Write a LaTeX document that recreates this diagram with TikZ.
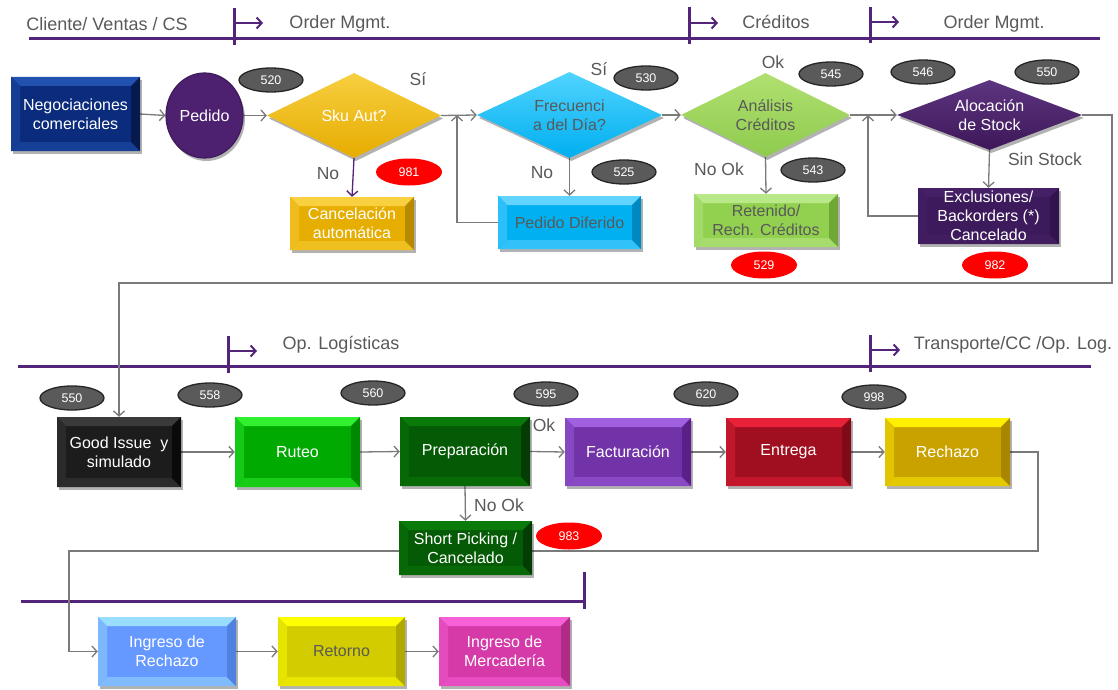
\documentclass[tikz,border=0pt]{standalone}
\usepackage{fontspec}
\setmainfont{Liberation Sans}
\usetikzlibrary{shapes.geometric,arrows.meta,calc,backgrounds,shadows}

\definecolor{lpurple}{HTML}{52247A}
\definecolor{hgray}{HTML}{595959}
\definecolor{cgray}{HTML}{7A7A7A}
\definecolor{numgray}{HTML}{5A5A5A}
\definecolor{negB}{HTML}{0B2C7C}\definecolor{negL}{HTML}{2252B0}\definecolor{negD}{HTML}{061A50}
\definecolor{cancB}{HTML}{E6AE00}\definecolor{cancL}{HTML}{F8D040}\definecolor{cancD}{HTML}{B88A00}
\definecolor{difB}{HTML}{00B0F0}\definecolor{difL}{HTML}{60D4FF}\definecolor{difD}{HTML}{0088C0}
\definecolor{retB}{HTML}{92D050}\definecolor{retL}{HTML}{B8E888}\definecolor{retD}{HTML}{70A838}
\definecolor{exB}{HTML}{3C1A5B}\definecolor{exL}{HTML}{452066}\definecolor{exD}{HTML}{32134D}
\definecolor{giB}{HTML}{1C1C1C}\definecolor{giL}{HTML}{3A3A3A}\definecolor{giD}{HTML}{0A0A0A}
\definecolor{rutB}{HTML}{00AA00}\definecolor{rutL}{HTML}{30F030}\definecolor{rutD}{HTML}{008800}
\definecolor{prB}{HTML}{055A05}\definecolor{prL}{HTML}{0A7A0A}\definecolor{prD}{HTML}{033D03}
\definecolor{faB}{HTML}{7232A8}\definecolor{faL}{HTML}{A060E0}\definecolor{faD}{HTML}{5A2088}
\definecolor{enB}{HTML}{A00F1F}\definecolor{enL}{HTML}{E82038}\definecolor{enD}{HTML}{800A18}
\definecolor{reB}{HTML}{C9A200}\definecolor{reL}{HTML}{FFF000}\definecolor{reD}{HTML}{A88600}
\definecolor{irB}{HTML}{6699FF}\definecolor{irL}{HTML}{99DDFF}\definecolor{irD}{HTML}{5080E0}
\definecolor{rtB}{HTML}{D2CC00}\definecolor{rtL}{HTML}{FFFF00}\definecolor{rtD}{HTML}{B0AA00}
\definecolor{imB}{HTML}{D63AA8}\definecolor{imL}{HTML}{F860D8}\definecolor{imD}{HTML}{B02A88}
\definecolor{skB}{HTML}{E6AC00}\definecolor{skL}{HTML}{F7CF40}
\definecolor{frB}{HTML}{00AEEF}\definecolor{frL}{HTML}{50D4FF}
\definecolor{anB}{HTML}{8FCB4E}\definecolor{anL}{HTML}{B0E070}
\definecolor{alB}{HTML}{3D1759}\definecolor{alL}{HTML}{5E3580}
\definecolor{pedB}{HTML}{4E2070}

\tikzset{
  conn/.style={draw=cgray, line width=1.3pt, -{Straight Barb[length=5pt,width=11pt,line width=1.3pt]}},
  hdr/.style={draw=lpurple, line width=3pt},
  hdrarr/.style={draw=lpurple, line width=2pt, -{Straight Barb[length=5pt,width=11pt,line width=2pt]}},
  hdrtxt/.style={text=hgray, font=\fontsize{18}{21}\selectfont, inner sep=0},
  lbl/.style={text=hgray, font=\fontsize{17.5}{21}\selectfont, inner sep=0},
  num/.style={ellipse, draw=black!85, line width=1.3pt, fill=numgray, minimum width=64pt, minimum height=24pt, inner sep=0, text=white, font=\fontsize{12.5}{14}\selectfont},
  rnum/.style={ellipse, draw=none, fill=red, minimum width=66pt, minimum height=27pt, inner sep=0, text=white, font=\fontsize{12.5}{14}\selectfont},
  shd/.style={drop shadow={shadow xshift=2pt, shadow yshift=-3pt, opacity=0.3, fill=black}},
  bx/.style n args={5}{rectangle, minimum width=#1pt, minimum height=#2pt, inner sep=0, fill=#3,
    align=center, text=white, font=\fontsize{16}{19}\selectfont, shd,
    path picture={
      \fill[#4] (path picture bounding box.north west) -- (path picture bounding box.north east)
         -- ++(-9pt,-9pt) -- ($(path picture bounding box.north west)+(9pt,-9pt)$) -- cycle;
      \fill[#4!50!#3] (path picture bounding box.south west) -- (path picture bounding box.south east)
         -- ++(-9pt,9pt) -- ($(path picture bounding box.south west)+(9pt,9pt)$) -- cycle;
      \fill[#4!45!#3] (path picture bounding box.north west) -- (path picture bounding box.south west)
         -- ++(9pt,9pt) -- ($(path picture bounding box.north west)+(9pt,-9pt)$) -- cycle;
      \fill[#5] (path picture bounding box.north east) -- (path picture bounding box.south east)
         -- ++(-9pt,9pt) -- ($(path picture bounding box.north east)+(-9pt,-9pt)$) -- cycle;
    }},
  dm/.style n args={4}{diamond, aspect=2, minimum width=#1pt, minimum height=#2pt, inner sep=0,
    top color=#4, bottom color=#3, align=center, text=white, font=\fontsize{16}{19}\selectfont, shd},
}

\begin{document}
\begin{tikzpicture}[x=1pt,y=-1pt]
\useasboundingbox (0,0) rectangle (1118,690);

% ---------- row 1 nodes
\node[bx={129}{74}{negB}{negL}{negD}] (neg) at (75.5,114) {Negociaciones\\comerciales};
\node[ellipse, minimum width=77pt, minimum height=85pt, inner sep=0, fill=pedB, draw=pedB!80!black, line width=1.2pt, text=white, font=\fontsize{16}{19}\selectfont, shd] (ped) at (204.5,115.5) {Pedido};
\node[dm={174}{85}{skB}{skL}] (sku) at (354,115.5) {Sku Aut?};
\node[bx={124}{53}{cancB}{cancL}{cancD}] (canc) at (352,223.5) {Cancelación\\automática};
\node[dm={185}{86}{frB}{frL}, text=hgray] (frec) at (569.5,115) {Frecuenci\\a del Día?};
\node[bx={143}{53}{difB}{difL}{difD}, text=hgray] (difer) at (569.5,222.5) {Pedido Diferido};
\node[dm={169}{84}{anB}{anL}, text=hgray] (anal) at (765.5,115) {Análisis\\Créditos};
\node[bx={144}{53}{retB}{retL}{retD}, text=hgray] (ret) at (766,220.5) {Retenido/\\Rech. Créditos};
\node[dm={185}{70}{alB}{alL}] (aloc) at (989.5,115) {Alocación\\de Stock};
\node[bx={141}{56}{exB}{exL}{exD}] (excl) at (988.5,216) {Exclusiones/\\Backorders (*)\\Cancelado};

% ---------- row 2 nodes
\node[bx={124}{70}{giB}{giL}{giD}] (gi) at (119,452) {Good Issue~ y\\simulado};
\node[bx={125}{70}{rutB}{rutL}{rutD}] (rut) at (297.5,452) {Ruteo};
\node[bx={130}{69}{prB}{prL}{prD}] (prep) at (465,451.5) {Preparación};
\node[bx={133}{54}{prB}{prL}{prD}] (sp) at (465.5,548) {Short Picking /\\Cancelado};
\node[bx={126}{68}{faB}{faL}{faD}] (fact) at (628,452) {Facturación};
\node[bx={125}{68}{enB}{enL}{enD}] (ent) at (788.5,452) {Entrega};
\node[bx={125}{68}{reB}{reL}{reD}] (rech) at (947.5,452) {Rechazo};

% ---------- row 3 nodes
\node[bx={138}{69}{irB}{irL}{irD}] (ingR) at (167,651.5) {Ingreso de\\Rechazo};
\node[bx={127}{69}{rtB}{rtL}{rtD}, text=hgray] (ret2) at (341.5,651.5) {Retorno};
\node[bx={131}{69}{imB}{imL}{imD}] (ingM) at (504.5,651.5) {Ingreso de\\Mercadería};

% ---------- number badges
\node[num] (n520) at (271,80) {520};
\node[rnum] (n981) at (409,172) {981};
\node[num] (n530) at (646,78) {530};
\node[num] (n525) at (624,172) {525};
\node[num] (n545) at (831,74) {545};
\node[num] (n543) at (813,170) {543};
\node[rnum] (n529) at (764,265) {529};
\node[num] (n546) at (923,72) {546};
\node[num] (n550a) at (1047,72) {550};
\node[rnum] (n982) at (995,265) {982};
\node[num] (n550b) at (72,398) {550};
\node[num] (n558) at (210,395) {558};
\node[num] (n560) at (373,393) {560};
\node[num] (n595) at (546,394) {595};
\node[num] (n620) at (706,394) {620};
\node[num] (n998) at (874,397) {998};
\node[rnum] (n983) at (569,536) {983};

% ---------- labels
\node[lbl] (lsi1) at (418,79) {Sí};
\node[lbl] (lno1) at (328,174) {No};
\node[lbl] (lsi2) at (599,69) {Sí};
\node[lbl] (lno2) at (542,173) {No};
\node[lbl] (lok1) at (773,62) {Ok};
\node[lbl] (lnok1) at (719,169) {No Ok};
\node[lbl] (lsin) at (1045,159) {Sin Stock};
\node[lbl] (lok2) at (544,425) {Ok};
\node[lbl] (lnok2) at (499,505) {No Ok};

% ---------- header texts
\node[hdrtxt] (h1) at (107,24) {Cliente/ Ventas / CS};
\node[hdrtxt] (h2) at (340,24) {Order Mgmt.};
\node[hdrtxt] (h3) at (776,22) {Créditos};
\node[hdrtxt] (h4) at (994,24) {Order Mgmt.};
\node[hdrtxt] (h5) at (341,345) {Op. Logísticas};
\node[hdrtxt] (h6) at (1013,345) {Transporte/CC /Op. Log.};

% ---------- coordinates
\coordinate (j1) at (457,115);
\coordinate (j2) at (868,115);
\coordinate (c1) at (1112,283);
\coordinate (c2) at (1038,551);
\coordinate (c3) at (69,651.5);

\begin{scope}[on background layer]
  % header bars
  \draw[hdr] (29,39) -- (1100,39);
  \draw[hdr] (234,8) -- (234,45);
  \draw[hdr] (689,7) -- (689,44);
  \draw[hdr] (870,7) -- (870,43);
  \draw[hdrarr] (234,23) -- (263,23);
  \draw[hdrarr] (689,23) -- (718,23);
  \draw[hdrarr] (870,22) -- (899,22);
  \draw[hdr] (18,366) -- (1091,366);
  \draw[hdr] (228,336) -- (228,373);
  \draw[hdr] (870,335) -- (870,372);
  \draw[hdrarr] (228,351) -- (257,351);
  \draw[hdrarr] (870,350) -- (900,350);
  \draw[hdr] (21,601) -- (584,601);
  \draw[hdr] (584,572) -- (584,609);
  % connectors
  \draw[conn] (neg.east) -- (ped.west);
  \draw[conn] (ped.east) -- (sku.west);
  \draw[conn, draw=lpurple, -{Straight Barb[length=5pt,width=11pt,line width=1.3pt,color=lpurple]}] (sku.south) -- (canc.north);
  \draw[conn] (sku.east) -- (frec.west);
  \draw[conn] (difer.west) -| (j1);
  \draw[conn] (frec.south) -- (difer.north);
  \draw[conn] (frec.east) -- (anal.west);
  \draw[conn] (anal.south) -- (ret.north);
  \draw[conn] (anal.east) -- (aloc.west);
  \draw[conn] (excl.west) -| (j2);
  \draw[conn] (aloc.south) -- (excl.north);
  \draw[conn] (aloc.east) -| (c1) -| (gi.north);
  \draw[conn] (gi.east) -- (rut.west);
  \draw[conn] (rut.east) -- (prep.west);
  \draw[conn] (prep.east) -- (fact.west);
  \draw[conn] (fact.east) -- (ent.west);
  \draw[conn] (ent.east) -- (rech.west);
  \draw[conn] (prep.south) -- (sp.north);
  \draw[conn] (rech.east) -| (c2) -| (c3) -- (ingR.west);
  \draw[conn] (ingR.east) -- (ret2.west);
  \draw[conn] (ret2.east) -- (ingM.west);
\end{scope}
\end{tikzpicture}
\end{document}
